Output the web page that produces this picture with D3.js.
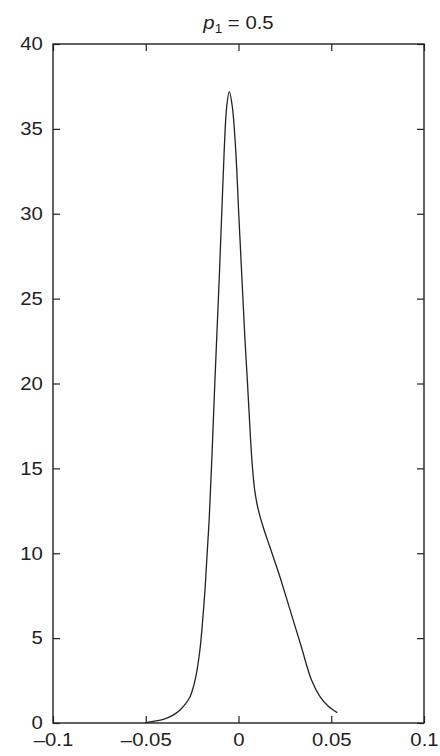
<!DOCTYPE html>
<html><head><meta charset="utf-8">
<script src="https://cdn.jsdelivr.net/npm/d3@7"></script>
<style>body{margin:0;background:#fff}svg{display:block}</style>
</head><body>
<script>
const xTicks = [-0.1, -0.05, 0, 0.05, 0.1];
const yTicks = [0, 5, 10, 15, 20, 25, 30, 35, 40];
const xs = [-0.0505,-0.046,-0.0405,-0.0355,-0.0315,-0.0288,-0.0261,-0.0244,-0.023,-0.0208,-0.0193,-0.0181,-0.0171,-0.0158,-0.0144,-0.0127,-0.0102,-0.0077,-0.00636,-0.00496,-0.00334,-0.00151,0.00016,0.00189,0.0035,0.00491,0.00652,0.00756,0.00864,0.00999,0.01153,0.01342,0.01683,0.01984,0.02287,0.02836,0.03386,0.03936,0.04394,0.04825,0.05326];
const ys = [0.01,0.1,0.22,0.45,0.77,1.1,1.55,2.1,2.73,4.3,6.07,7.8,9.6,12.0,15.5,20.2,26.7,33.75,36.31,37.19,36.31,33.75,29.93,26.1,22.56,19.91,16.67,15.0,13.8,12.9,12.2,11.5,10.4,9.43,8.42,6.46,4.49,2.53,1.55,1.0,0.61];

const W = 440, H = 756;
const L = 53, R = 424, T = 44, B = 723;
const SX = 1.13;
const svg = d3.select("body").append("svg").attr("width", W).attr("height", H);
const x = d3.scaleLinear().domain([-0.1, 0.1]).range([L, R]);
const y = d3.scaleLinear().domain([0, 40]).range([B, T]);
const fmt = d => d === 0 ? "0" : (d < 0 ? "\u2013" + String(Math.abs(d)) : String(d));
const font = "'Liberation Sans', Arial, sans-serif";
const tl = 7;

function style(g) {
  g.selectAll("path.domain").remove();
  g.selectAll("line").attr("stroke", "#222").attr("stroke-width", 1.2);
  g.selectAll("text").attr("font-family", font).attr("font-size", 18).attr("fill", "#222")
    .attr("transform", `scale(${SX},1)`);
}
svg.append("g").attr("transform", `translate(0,${B})`)
  .call(d3.axisBottom(x).tickValues(xTicks).tickSizeInner(-tl).tickSizeOuter(0).tickPadding(10).tickFormat(fmt))
  .call(style);
svg.append("g").attr("transform", `translate(0,${T})`)
  .call(d3.axisTop(x).tickValues(xTicks).tickSizeInner(-tl).tickSizeOuter(0).tickFormat(""))
  .call(style);
svg.append("g").attr("transform", `translate(${L},0)`)
  .call(d3.axisLeft(y).tickValues(yTicks).tickSizeInner(-tl).tickSizeOuter(0).tickPadding(9).tickFormat(d3.format("d")))
  .call(style);
svg.append("g").attr("transform", `translate(${R},0)`)
  .call(d3.axisRight(y).tickValues(yTicks).tickSizeInner(-tl).tickSizeOuter(0).tickFormat(""))
  .call(style);
svg.append("rect").attr("x", L).attr("y", T).attr("width", R - L).attr("height", B - T)
  .attr("fill", "none").attr("stroke", "#222").attr("stroke-width", 1.4);

const data = xs.map((v, i) => [v, ys[i]]);
svg.append("path").datum(data)
  .attr("fill", "none").attr("stroke", "#222").attr("stroke-width", 1.3)
  .attr("d", d3.line().x(d => x(d[0])).y(d => y(d[1])).curve(d3.curveCatmullRom.alpha(0.5)));

const t = svg.append("text").attr("transform", `translate(${(L + R) / 2},29) scale(${SX},1)`)
  .attr("text-anchor", "middle")
  .attr("font-family", font).attr("font-size", 18).attr("fill", "#222");
t.append("tspan").attr("font-style", "italic").text("p");
t.append("tspan").attr("font-size", 12).attr("dy", 4).text("1");
t.append("tspan").attr("dy", -4).text(" = 0.5");
</script>
</body></html>
